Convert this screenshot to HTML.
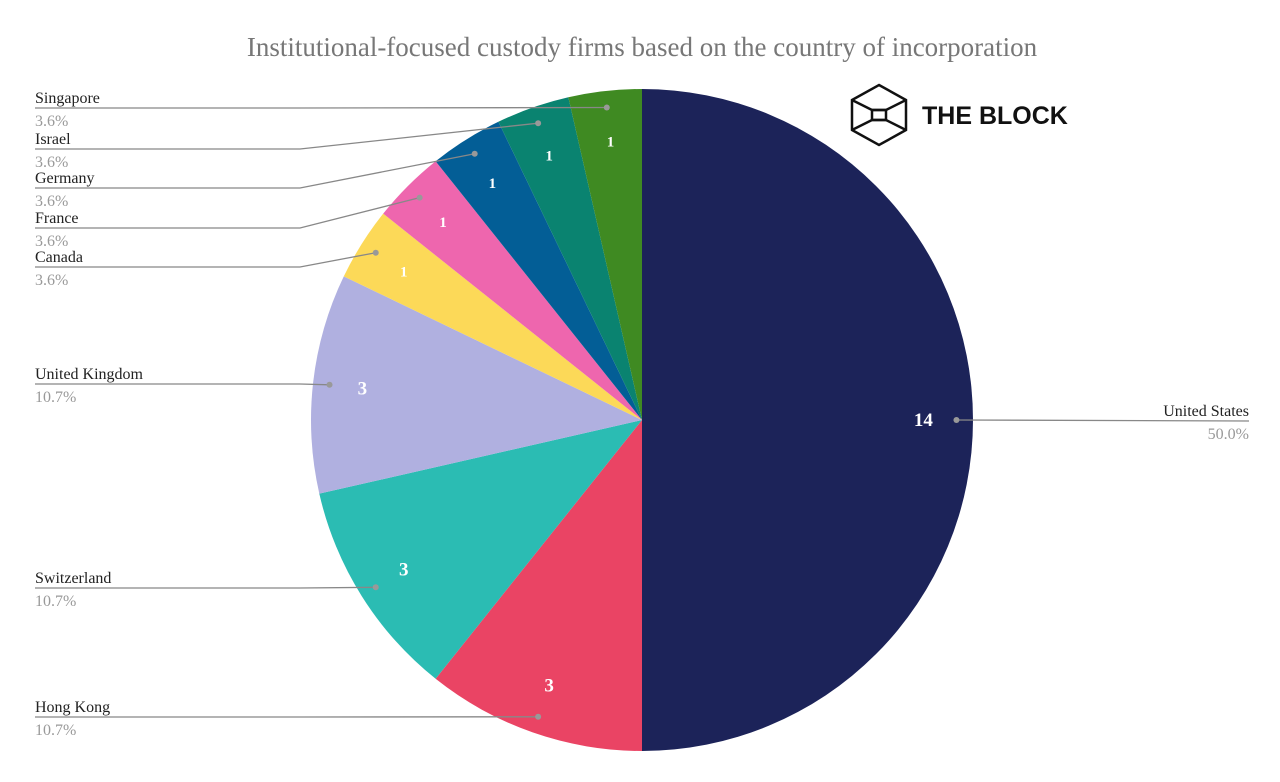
<!DOCTYPE html>
<html><head><meta charset="utf-8"><style>
body{margin:0;background:#fff;}
svg{display:block;font-family:"Liberation Serif",serif;}
</style></head><body>
<svg width="1280" height="782" viewBox="0 0 1280 782">
<text x="642" y="56" text-anchor="middle" font-size="27" fill="#777">Institutional-focused custody firms based on the country of incorporation</text>
<g stroke="#111" stroke-width="2.5" fill="none">
<polygon points="879,85 906,100 906,130 879,145 852,130 852,100"/>
<polyline points="852,100 872,110 886,110 906,100"/>
<polyline points="852,130 872,120 886,120 906,130"/>
<polygon points="872,110 886,110 886,120 872,120"/>
</g>
<text x="922" y="124" font-family="Liberation Sans,sans-serif" font-size="25" font-weight="bold" fill="#111">THE BLOCK</text>
<g id="slices"></g><g id="labels"></g>
</svg>
<script>
const categories=["United States","Hong Kong","Switzerland","United Kingdom","Canada","France","Germany","Israel","Singapore"];
const values=[14,3,3,3,1,1,1,1,1];
const colors=["#1c2359","#ea4464","#2bbcb3","#b0b0e0","#fcd958","#ee66ae","#035e96","#0a8370","#3f8a22"];
// label layout (pixel positions of label line rows)
const labelY=[421,717,588,384,267,228,188,149,108];
const cx=642,cy=420,R=331;
const ns="http://www.w3.org/2000/svg";
const total=values.reduce((a,b)=>a+b,0);
const gs=document.getElementById('slices'),gl=document.getElementById('labels');
function pt(a,r){return [cx+r*Math.sin(a),cy-r*Math.cos(a)];}
let a0=0;
values.forEach((v,i)=>{
 const a1=a0+v/total*2*Math.PI;
 const p0=pt(a0,R),p1=pt(a1,R);
 const path=document.createElementNS(ns,'path');
 path.setAttribute('d',`M${cx},${cy}L${p0[0]},${p0[1]}A${R},${R} 0 ${a1-a0>Math.PI?1:0} 1 ${p1[0]},${p1[1]}Z`);
 path.setAttribute('fill',colors[i]);
 
 
 gs.appendChild(path);
 const m=(a0+a1)/2;
 const lp=pt(m,0.85*R);
 const t=document.createElementNS(ns,'text');
 t.setAttribute('x',lp[0]);t.setAttribute('y',lp[1]+6);
 t.setAttribute('text-anchor','middle');t.setAttribute('fill','#fff');
 t.setAttribute('font-weight','bold');t.setAttribute('font-size',v>1?19:15);
 t.textContent=v;
 
 
 gl.appendChild(t);
 const d=pt(m,0.95*R);
 const ly=labelY[i];
 const line=document.createElementNS(ns,'polyline');
 let pts,tx,anchor;
 if(d[0]>cx){pts=`${d[0]},${d[1]} 1249,${ly}`;tx=1249;anchor='end';}
 else{pts=`35,${ly} 300,${ly} ${d[0]},${d[1]}`;tx=35;anchor='start';}
 line.setAttribute('points',pts);line.setAttribute('fill','none');
 line.setAttribute('stroke','#888');line.setAttribute('stroke-width','1.3');
 
 
 gl.appendChild(line);
 const c=document.createElementNS(ns,'circle');
 c.setAttribute('cx',d[0]);c.setAttribute('cy',d[1]);c.setAttribute('r',3);c.setAttribute('fill','#999');
 
 
 gl.appendChild(c);
 const n=document.createElementNS(ns,'text');
 n.setAttribute('x',tx);n.setAttribute('y',ly-5);n.setAttribute('text-anchor',anchor);
 n.setAttribute('font-size',16);n.setAttribute('fill','#222');n.textContent=categories[i];
 
 
 gl.appendChild(n);
 const p=document.createElementNS(ns,'text');
 p.setAttribute('x',tx);p.setAttribute('y',ly+18);p.setAttribute('text-anchor',anchor);
 p.setAttribute('font-size',16);p.setAttribute('fill','#999');
 p.textContent=(v/total*100).toFixed(1)+'%';
 
 
 gl.appendChild(p);
 a0=a1;
});
</script>
</body></html>
